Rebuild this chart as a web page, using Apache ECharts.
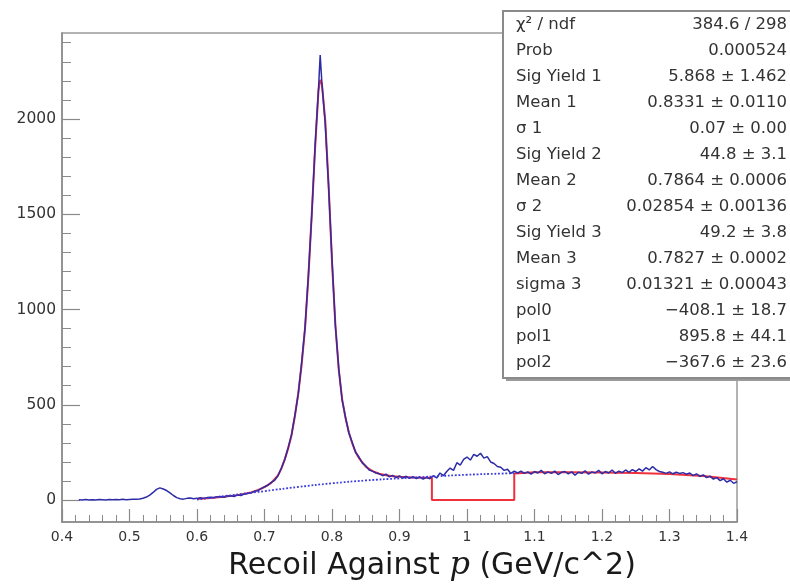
<!DOCTYPE html>
<html>
<head>
<meta charset="utf-8">
<script src="https://cdn.jsdelivr.net/npm/echarts/dist/echarts.min.js"></script>
<style>html,body{margin:0;padding:0;background:#fff;}#c{width:790px;height:588px;}</style>
</head>
<body>
<div id="c"></div>
<script>
// ---------- data ----------
const histLow = [[0.425,2],[0.43,1],[0.435,3],[0.44,1],[0.445,2],[0.45,1],[0.455,3],[0.46,2],[0.465,1],[0.47,3],[0.475,2],[0.48,3],[0.485,2],[0.49,4],[0.495,2],[0.5,3],[0.505,4],[0.51,5],[0.515,6],[0.52,10],[0.525,16],[0.53,26],[0.535,40],[0.54,56],[0.545,64],[0.55,58],[0.555,50],[0.56,38],[0.565,24],[0.57,13],[0.575,7],[0.58,5],[0.585,9],[0.59,11],[0.595,7],[0.6,9],[0.605,12],[0.61,9],[0.615,13],[0.62,15],[0.625,12],[0.63,17],[0.635,19],[0.64,15],[0.645,21],[0.65,23],[0.655,19],[0.66,27],[0.665,24],[0.67,31],[0.675,35],[0.68,38],[0.685,46],[0.69,50],[0.695,60],[0.7,70],[0.705,78],[0.71,93],[0.715,104],[0.72,128]];
const histPeak = [[0.725,168],[0.73,212],[0.735,275],[0.74,342],[0.745,445],[0.75,556],[0.755,722],[0.76,902],[0.765,1180],[0.77,1495],[0.775,1862],[0.78,2160],[0.7825,2335],[0.785,2190],[0.79,1975],[0.795,1640],[0.8,1262],[0.805,915],[0.81,690],[0.815,524],[0.82,436],[0.825,352],[0.83,302],[0.835,250],[0.84,226],[0.845,194],[0.85,180],[0.855,158],[0.86,152]];
const histMid = [[0.865,142],[0.87,138],[0.875,128],[0.88,136],[0.885,122],[0.89,130],[0.895,118],[0.9,127],[0.905,116],[0.91,125],[0.915,114],[0.92,123],[0.925,113],[0.93,121],[0.935,110],[0.94,119],[0.945,112],[0.95,128],[0.955,116],[0.96,142],[0.965,128],[0.97,150],[0.975,168],[0.98,156],[0.985,196],[0.99,184],[0.995,214],[1.0,226],[1.005,210],[1.01,240],[1.015,230],[1.02,246],[1.025,220],[1.03,228],[1.035,200],[1.04,192],[1.045,176],[1.05,172],[1.055,156],[1.06,162],[1.065,140],[1.07,152]];
const histHigh = [[1.075,142],[1.08,152],[1.085,140],[1.09,148],[1.095,136],[1.1,150],[1.105,142],[1.11,156],[1.115,138],[1.12,148],[1.125,140],[1.13,152],[1.135,134],[1.14,146],[1.145,150],[1.15,138],[1.155,148],[1.16,130],[1.165,146],[1.17,140],[1.175,154],[1.18,136],[1.185,148],[1.19,142],[1.195,156],[1.2,138],[1.205,150],[1.21,142],[1.215,158],[1.22,140],[1.225,152],[1.23,144],[1.235,158],[1.24,146],[1.245,160],[1.25,150],[1.255,164],[1.26,152],[1.265,170],[1.27,158],[1.275,176],[1.28,160],[1.285,150],[1.29,146],[1.295,140],[1.3,148],[1.305,138],[1.31,146],[1.315,140],[1.32,144],[1.325,136],[1.33,142],[1.335,128],[1.34,138],[1.345,124],[1.35,132],[1.355,118],[1.36,126],[1.365,110],[1.37,118],[1.375,102],[1.38,112],[1.385,94],[1.39,104],[1.395,88],[1.4,96]];

const fitCurve = [[0.6,6],[0.62,11],[0.64,17],[0.66,26],[0.68,40],[0.69,52],[0.7,68],[0.71,90],[0.72,130],[0.725,165],[0.73,215],[0.735,270],[0.74,340],[0.745,440],[0.75,560],[0.755,710],[0.76,900],[0.765,1170],[0.77,1500],[0.775,1850],[0.78,2150],[0.7825,2205],[0.785,2185],[0.79,1990],[0.795,1650],[0.8,1250],[0.805,920],[0.81,685],[0.815,530],[0.82,430],[0.825,355],[0.83,298],[0.835,252],[0.84,220],[0.85,175],[0.86,152],[0.87,138],[0.88,130],[0.89,125],[0.9,122],[0.92,119],[0.945,117],[0.948,117],[0.948,0],[1.07,0],[1.07,140],[1.1,146],[1.15,146],[1.2,145],[1.25,142],[1.3,137],[1.35,126],[1.4,108]];

const bgCurve = [[0.6,3],[0.65,25],[0.7,47],[0.75,69],[0.8,88],[0.85,103],[0.9,114],[0.95,124],[1.0,133],[1.05,139],[1.07,141]];

const yMajorTicks = [0, 500, 1000, 1500, 2000];
const yMinorTicks = [100,200,300,400,600,700,800,900,1100,1200,1300,1400,1600,1700,1800,1900,2100,2200,2300,2400];

const statNames = ['χ² / ndf','Prob','Sig Yield 1','Mean 1','σ 1','Sig Yield 2','Mean 2','σ 2','Sig Yield 3','Mean 3','sigma 3','pol0','pol1','pol2'];
const statValues = ['384.6 / 298','0.000524','5.868 ± 1.462','0.8331 ± 0.0110','0.07 ± 0.00','44.8 ± 3.1','0.7864 ± 0.0006','0.02854 ± 0.00136','49.2 ± 3.8','0.7827 ± 0.0002','0.01321 ± 0.00043','−408.1 ± 18.7','895.8 ± 44.1','−367.6 ± 23.6'];

// ---------- chart ----------
const histData = histLow.concat(histPeak, histMid, histHigh);
const axisCol = '#8a8a8a';
const txtCol = '#333';
const fontFam = '"DejaVu Sans", sans-serif';

const statEls = [
  {type:'rect', shape:{x:506, y:14, width:300, height:367}, style:{fill:'#9a9a9a'}, z:100},
  {type:'rect', shape:{x:503, y:11, width:300, height:367}, style:{fill:'#fff', stroke:'#8a8a8a', lineWidth:2}, z:101}
];
statNames.forEach((n, i) => {
  const y = 25 + i * 26;
  statEls.push({type:'text', z:102, style:{text:n, x:516, y:y, fontSize:16.5, fontFamily:fontFam, fill:txtCol, textAlign:'left', textVerticalAlign:'middle'}});
  statEls.push({type:'text', z:102, style:{text:statValues[i], x:787, y:y, fontSize:16.5, fontFamily:fontFam, fill:txtCol, textAlign:'right', textVerticalAlign:'middle'}});
});

const chart = echarts.init(document.getElementById('c'), null, {renderer:'canvas'});
chart.setOption({
  animation:false,
  backgroundColor:'#fff',
  title:{
    text:'{a|Recoil Against }{p|p}{a| (GeV/c^2)}',
    left:427, top:545, textAlign:'center',
    textStyle:{
      fontWeight:'normal',
      rich:{
        a:{fontSize:30, fontWeight:'normal', fontFamily:'"DejaVu Sans", sans-serif', color:'#1a1a1a'},
        p:{fontSize:32, fontWeight:'normal', fontFamily:'"DejaVu Serif", serif', fontStyle:'italic', color:'#1a1a1a'}
      }
    }
  },
  grid:{left:62, right:53, top:33, bottom:66, show:true, borderColor:'#9a9a9a', borderWidth:1.5, backgroundColor:'transparent'},
  xAxis:{
    type:'value', min:0.4, max:1.4, interval:0.1,
    axisLine:{show:true, onZero:false, lineStyle:{color:axisCol, width:1.5}},
    axisTick:{show:true, inside:true, length:13, lineStyle:{color:axisCol, width:1.2}},
    minorTick:{show:true, splitNumber:5, length:7, lineStyle:{color:axisCol, width:1}},
    axisLabel:{fontSize:14, color:txtCol, margin:8, fontFamily:fontFam},
    splitLine:{show:false}, minorSplitLine:{show:false}
  },
  yAxis:[
    {
      type:'value', min:-115, max:2451, position:'left',
      axisLine:{show:true, lineStyle:{color:axisCol, width:1.5}},
      axisTick:{show:true, inside:true, length:18, customValues:yMajorTicks, lineStyle:{color:axisCol, width:1.2}},
      axisLabel:{customValues:yMajorTicks, fontSize:15.5, color:txtCol, margin:6, fontFamily:fontFam, formatter:(v) => String(v)},
      splitLine:{show:false}
    },
    {
      type:'value', min:-115, max:2451, position:'left', offset:0,
      axisLine:{show:false},
      axisTick:{show:true, inside:true, length:9, customValues:yMinorTicks, lineStyle:{color:axisCol, width:1}},
      axisLabel:{show:false},
      splitLine:{show:false}
    }
  ],
  series:[
    {type:'line', name:'fit', data:fitCurve, showSymbol:false, symbol:'none', lineStyle:{color:'#f0303c', width:2}, z:3},
    {type:'line', name:'hist', data:histData, showSymbol:false, symbol:'none', lineStyle:{color:'#2c2ca6', width:1.5}, z:4},
    {type:'line', name:'bg', data:bgCurve, smooth:true, showSymbol:false, symbol:'none', lineStyle:{color:'#3a3ae0', width:1.8, type:'dotted'}, z:5}
  ],
  graphic:{elements:statEls}
});
</script>
</body>
</html>
